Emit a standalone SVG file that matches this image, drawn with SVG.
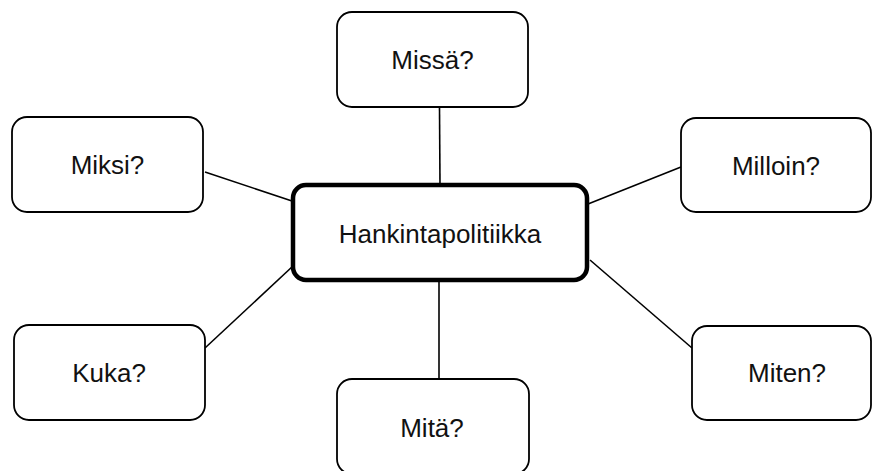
<svg xmlns="http://www.w3.org/2000/svg" width="872" height="471" viewBox="0 0 872 471">
<style>
.box{fill:#fff;stroke:#000;stroke-width:1.8}
.main{fill:#fff;stroke:#000;stroke-width:4.5}
.lbl{font-family:"Liberation Sans",Arial,sans-serif;font-size:26px;fill:#111;text-anchor:middle}
.conn line{stroke:#000;stroke-width:1.6}
</style>
<rect width="872" height="471" fill="#fff"/>
<g id="connectors" class="conn">
<line x1="439.5" y1="107" x2="440" y2="186"/>
<line x1="439" y1="282" x2="439" y2="379"/>
<line x1="205" y1="172" x2="292" y2="201"/>
<line x1="681" y1="167" x2="588" y2="204"/>
<line x1="205" y1="348" x2="293" y2="266"/>
<line x1="692" y1="348" x2="590" y2="260"/>
</g>
<g id="node-center">
<rect class="main" x="293" y="185" width="294" height="95" rx="13"/>
<text class="lbl" x="440" y="243">Hankintapolitiikka</text>
</g>
<g id="node-missa">
<rect class="box" x="337" y="12" width="191" height="95" rx="15"/>
<text class="lbl" x="432.5" y="69">Missä?</text>
</g>
<g id="node-miksi">
<rect class="box" x="12" y="117" width="191" height="95" rx="15"/>
<text class="lbl" x="107.5" y="174">Miksi?</text>
</g>
<g id="node-milloin">
<rect class="box" x="681" y="118" width="190" height="94" rx="15"/>
<text class="lbl" x="776" y="175">Milloin?</text>
</g>
<g id="node-kuka">
<rect class="box" x="14" y="325" width="191" height="95" rx="15"/>
<text class="lbl" x="109" y="382">Kuka?</text>
</g>
<g id="node-mita">
<rect class="box" x="337" y="379" width="192" height="95" rx="15"/>
<text class="lbl" x="432" y="437">Mitä?</text>
</g>
<g id="node-miten">
<rect class="box" x="692" y="326" width="179" height="94" rx="15"/>
<text class="lbl" x="787" y="382">Miten?</text>
</g>
</svg>
